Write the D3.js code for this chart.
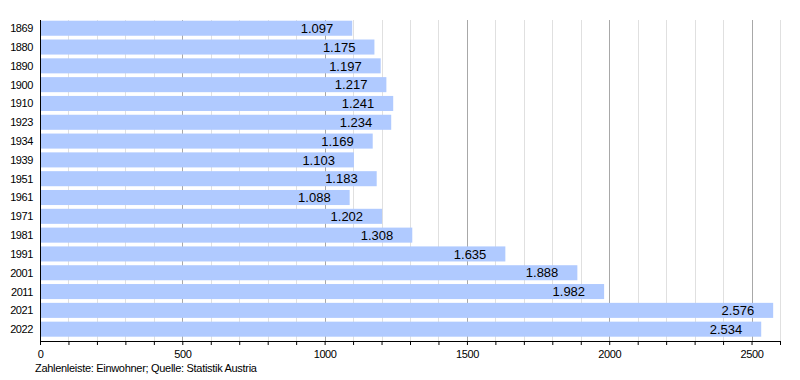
<!DOCTYPE html>
<html>
<head>
<meta charset="utf-8">
<script src="https://cdn.jsdelivr.net/npm/d3@7"></script>
<style>
  body { margin: 0; background: #fff; }
  text { font-family: "Liberation Sans", Arial, sans-serif; }
</style>
</head>
<body>
<script>
    // Data
    let years = ["1869", "1880", "1890", "1900", "1910", "1923", "1934", "1939", "1951",
        "1961", "1971", "1981", "1991", "2001", "2011", "2021", "2022"];
    let population = [1097, 1175, 1197, 1217, 1241, 1234, 1169, 1103, 1183,
        1088, 1202, 1308, 1635, 1888, 1982, 2576, 2534];
    let tickValues = [0, 500, 1000, 1500, 2000, 2500];
    let note = "Zahlenleiste: Einwohner; Quelle: Statistik Austria";

    let width = 800, height = 380;
    let plotTop = 20, plotBottom = 341;

    let svg = d3.select("body")
        .append("svg")
        .attr("width", width)
        .attr("height", height);

    let x = d3.scaleLinear()
        .domain([0, 2600])
        .range([40, 780]);

    let y = d3.scaleBand()
        .domain(years)
        .range([20.7, 336.7])
        .paddingInner(0.2)
        .paddingOuter(0);

    let fmt = d => d3.format(",")(d).replace(",", ".");

    // grid lines, every 100
    svg.append("g")
        .selectAll("line")
        .data(d3.range(100, 2601, 100))
        .join("line")
        .attr("x1", d => Math.round(x(d)) + 0.5)
        .attr("x2", d => Math.round(x(d)) + 0.5)
        .attr("y1", plotTop)
        .attr("y2", plotBottom)
        .attr("stroke", d => d % 500 === 0 ? "#a8a8a8" : "#e0e0e0");

    // bars
    svg.append("g")
        .selectAll("rect")
        .data(years)
        .join("rect")
        .attr("x", x(0))
        .attr("y", d => y(d))
        .attr("width", (d, i) => x(population[i]) - x(0))
        .attr("height", y.bandwidth())
        .attr("fill", "#b0caff");

    // value labels
    svg.append("g")
        .selectAll("text")
        .data(years)
        .join("text")
        .attr("x", (d, i) => x(population[i]) - 19)
        .attr("y", d => y(d) + y.bandwidth() / 2)
        .attr("dy", "0.36em")
        .attr("text-anchor", "end")
        .attr("font-size", 13)
        .attr("fill", "#000")
        .text((d, i) => fmt(population[i]));

    // year labels
    svg.append("g")
        .selectAll("text")
        .data(years)
        .join("text")
        .attr("x", 33)
        .attr("y", d => y(d) + y.bandwidth() / 2)
        .attr("dy", "0.36em")
        .attr("text-anchor", "end")
        .attr("font-size", 11)
        .attr("letter-spacing", -0.4)
        .text(d => d);

    // left axis line
    svg.append("line")
        .attr("x1", x(0) + 0.5).attr("x2", x(0) + 0.5)
        .attr("y1", plotTop).attr("y2", plotBottom)
        .attr("stroke", "#000");

    // bottom axis
    let xAxis = d3.axisBottom(x)
        .tickValues(d3.range(0, 2601, 100))
        .tickSize(4)
        .tickFormat(d => tickValues.includes(d) ? d : "");
    let gx = svg.append("g")
        .attr("transform", `translate(0,${plotBottom})`)
        .call(xAxis);
    gx.select(".domain").attr("d", `M${x(0)},0.5H${x(2600)}`).attr("stroke", "#000");
    gx.selectAll(".tick line").attr("stroke", "#000");
    gx.selectAll(".tick text")
        .attr("font-family", "Liberation Sans, Arial, sans-serif")
        .attr("font-size", 11)
        .attr("letter-spacing", -0.4)
        .attr("fill", "#000")
        .attr("y", 9);

    // note
    svg.append("text")
        .attr("x", 35)
        .attr("y", 372)
        .attr("font-size", 11)
        .attr("letter-spacing", -0.3)
        .text(note);
</script>
</body>
</html>
